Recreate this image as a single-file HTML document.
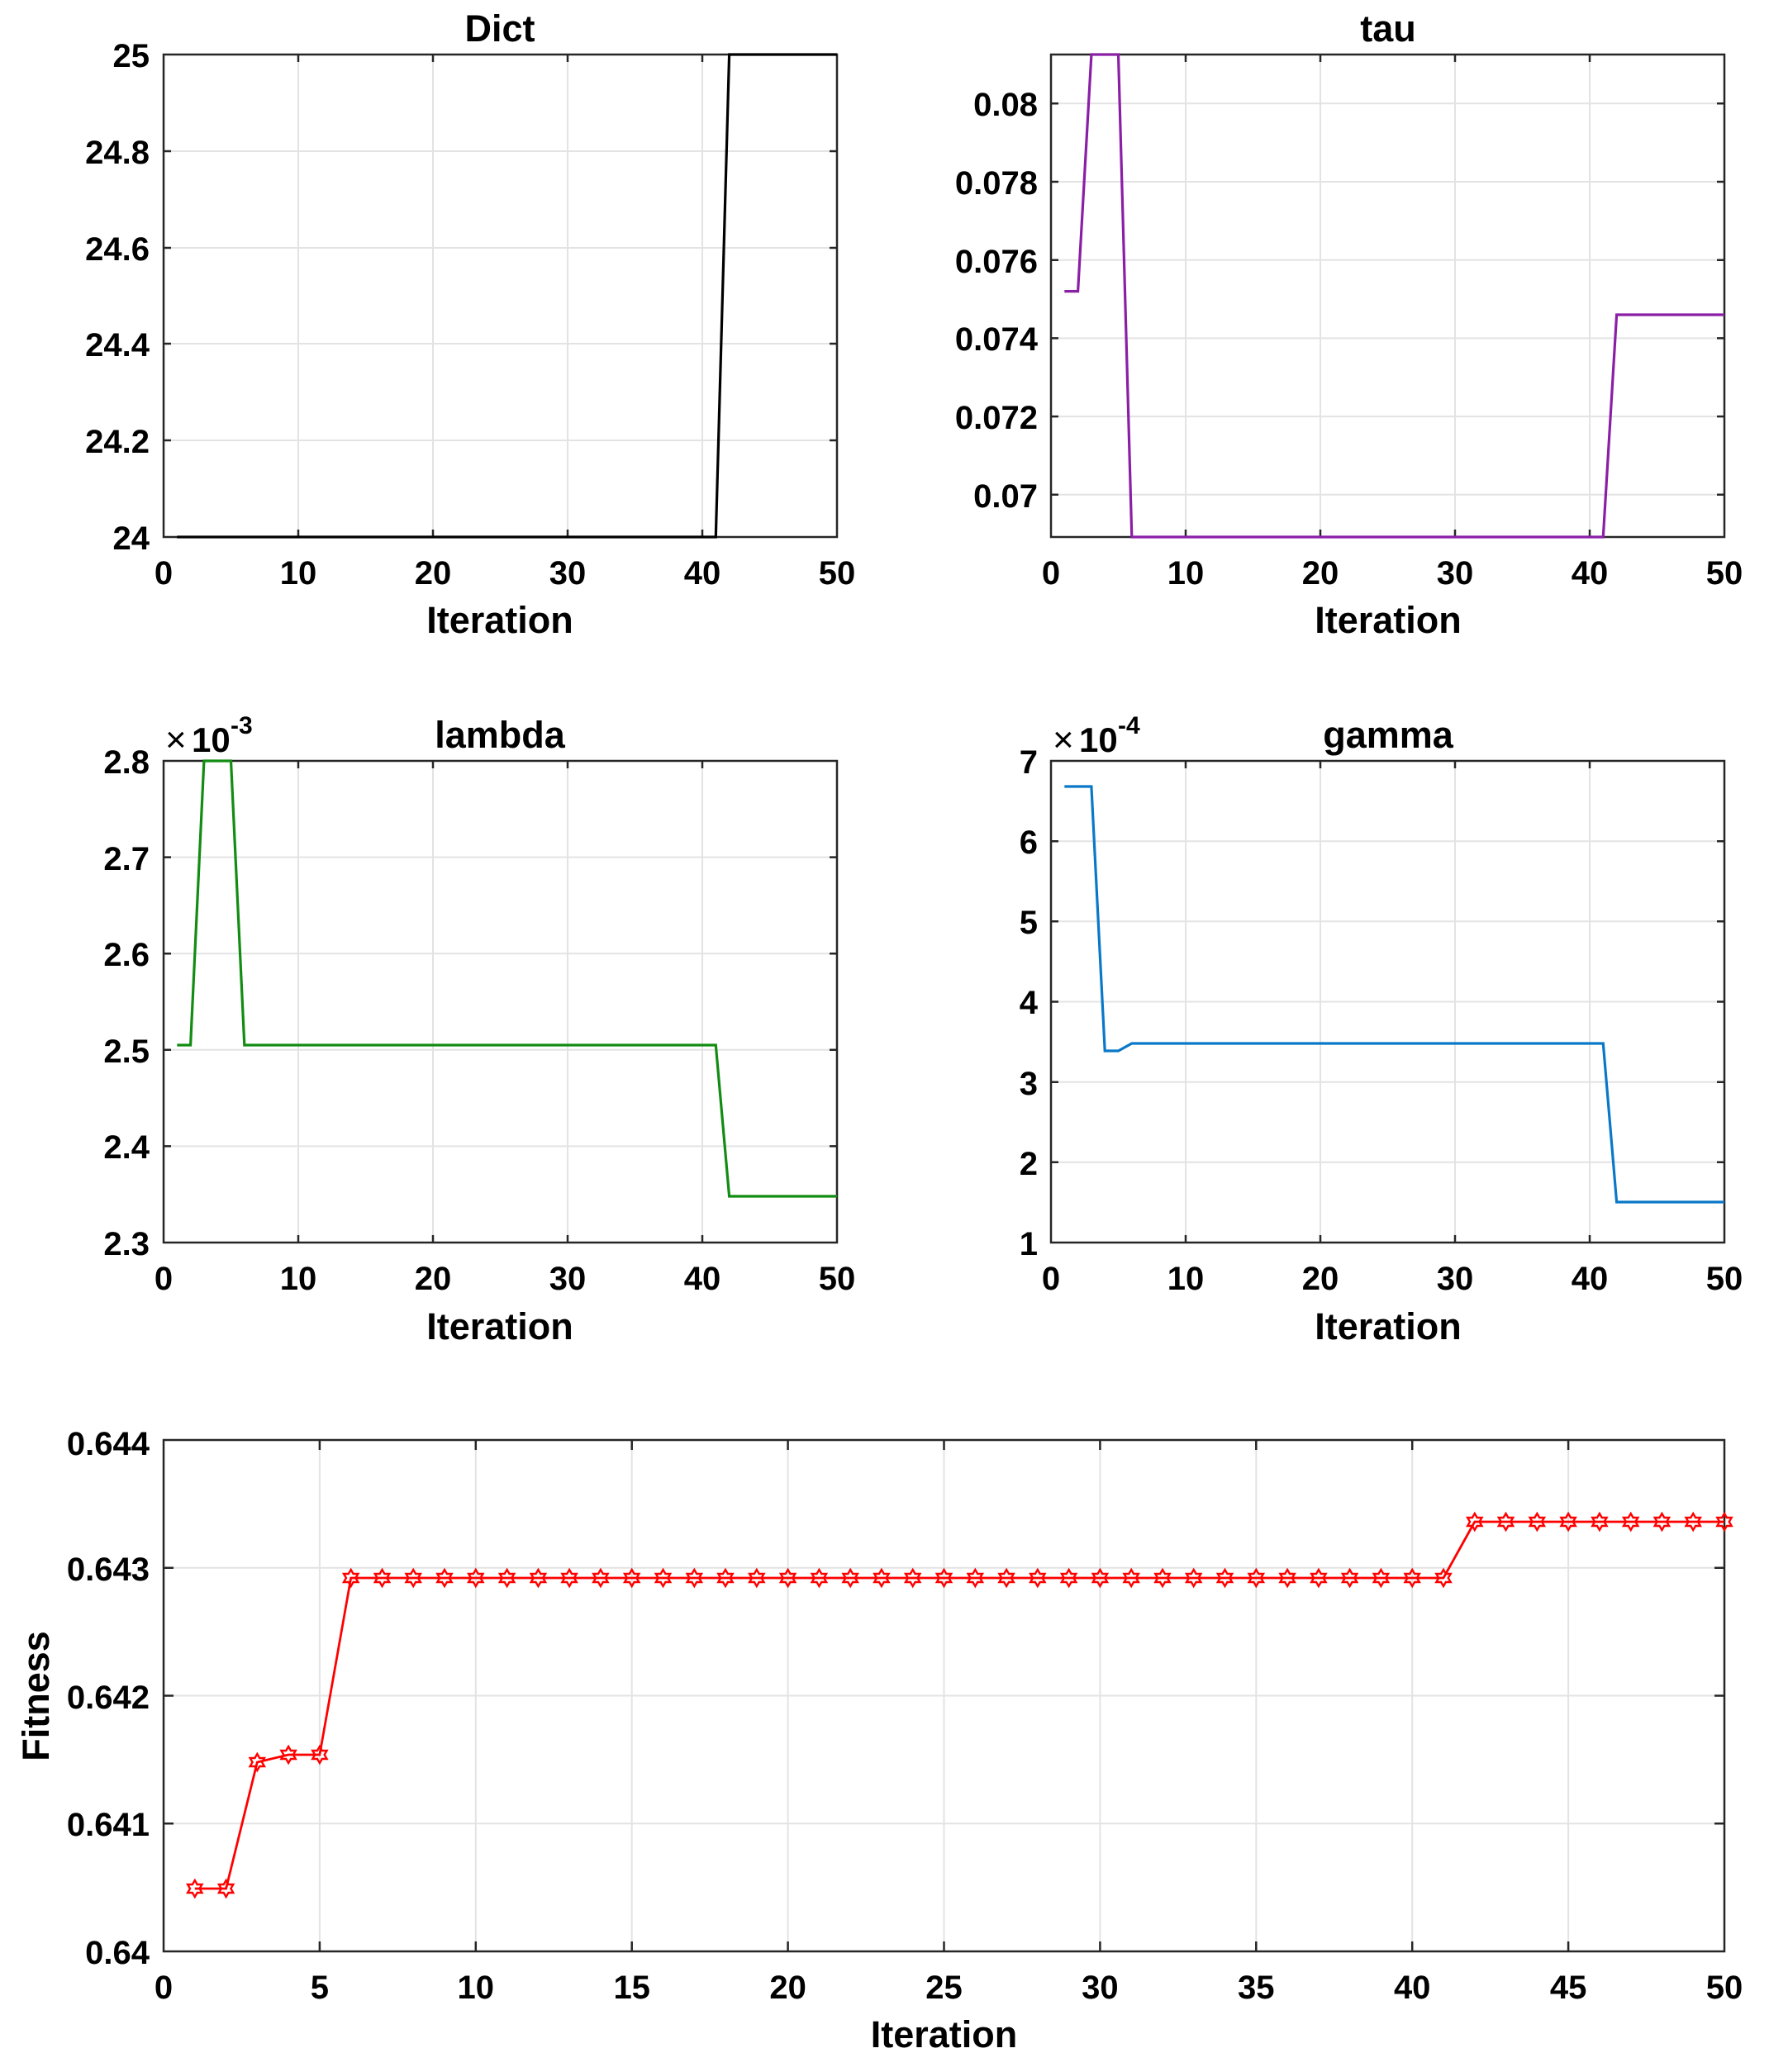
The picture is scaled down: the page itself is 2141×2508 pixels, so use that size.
<!DOCTYPE html>
<html><head><meta charset="utf-8"><style>
html,body{margin:0;padding:0;background:#fff;}
svg{display:block;}
text{font-family:"Liberation Sans",Arial,sans-serif;font-weight:bold;fill:#000;}
.t{font-size:40px;}
.ti{font-size:45px;}
.lab{font-size:45px;}
.g{stroke:#e3e3e3;stroke-width:2;fill:none;}
.ax{stroke:#262626;stroke-width:2.5;fill:none;}
.tk{stroke:#262626;stroke-width:2.5;fill:none;}
</style></head><body>
<svg width="2141" height="2508" viewBox="0 0 2141 2508" xmlns="http://www.w3.org/2000/svg">
<defs>
<polygon id="hx" points="0,-10 2.89,-5 8.66,-5 5.77,0 8.66,5 2.89,5 0,10 -2.89,5 -8.66,5 -5.77,0 -8.66,-5 -2.89,-5" fill="none" stroke="#ff0000" stroke-width="2.4"/>
</defs>

<!-- ===== Panel A: Dict ===== -->
<path class="g" d="M361,66V650M524,66V650M687,66V650M850,66V650M198,183H1013M198,300H1013M198,416H1013M198,533H1013"/>
<path class="tk" d="M361,650v-9M524,650v-9M687,650v-9M850,650v-9M361,66v9M524,66v9M687,66v9M850,66v9M198,183h9M198,300h9M198,416h9M198,533h9M1013,183h-9M1013,300h-9M1013,416h-9M1013,533h-9"/>
<rect class="ax" x="198" y="66" width="815" height="584"/>
<polyline points="214.3,650 866.3,650 882.6,66 1013,66" fill="none" stroke="#000" stroke-width="3.2"/>
<text class="ti" x="605" y="50" text-anchor="middle">Dict</text>
<g class="t" text-anchor="end">
<text x="181" y="81">25</text><text x="181" y="198">24.8</text><text x="181" y="315">24.6</text><text x="181" y="431">24.4</text><text x="181" y="548">24.2</text><text x="181" y="665">24</text>
</g>
<g class="t" text-anchor="middle">
<text x="198" y="707">0</text><text x="361" y="707">10</text><text x="524" y="707">20</text><text x="687" y="707">30</text><text x="850" y="707">40</text><text x="1013" y="707">50</text>
</g>
<text class="lab" x="605" y="766" text-anchor="middle">Iteration</text>

<!-- ===== Panel B: tau ===== -->
<path class="g" d="M1435,66V650M1598,66V650M1761,66V650M1924,66V650M1272,125.3H2087M1272,220H2087M1272,314.7H2087M1272,409.4H2087M1272,504.1H2087M1272,598.8H2087"/>
<path class="tk" d="M1435,650v-9M1598,650v-9M1761,650v-9M1924,650v-9M1435,66v9M1598,66v9M1761,66v9M1924,66v9M1272,125.3h9M1272,220h9M1272,314.7h9M1272,409.4h9M1272,504.1h9M1272,598.8h9M2087,125.3h-9M2087,220h-9M2087,314.7h-9M2087,409.4h-9M2087,504.1h-9M2087,598.8h-9"/>
<rect class="ax" x="1272" y="66" width="815" height="584"/>
<polyline points="1288.3,352.6 1304.6,352.6 1320.9,66 1353.5,66 1369.8,650 1940.3,650 1956.6,381 2087,381" fill="none" stroke="#8a1fa6" stroke-width="3.2"/>
<text class="ti" x="1680" y="50" text-anchor="middle">tau</text>
<g class="t" text-anchor="end">
<text x="1256" y="140">0.08</text><text x="1256" y="235">0.078</text><text x="1256" y="330">0.076</text><text x="1256" y="424">0.074</text><text x="1256" y="519">0.072</text><text x="1256" y="614">0.07</text>
</g>
<g class="t" text-anchor="middle">
<text x="1272" y="707">0</text><text x="1435" y="707">10</text><text x="1598" y="707">20</text><text x="1761" y="707">30</text><text x="1924" y="707">40</text><text x="2087" y="707">50</text>
</g>
<text class="lab" x="1680" y="766" text-anchor="middle">Iteration</text>

<!-- ===== Panel C: lambda ===== -->
<path class="g" d="M361,921V1504M524,921V1504M687,921V1504M850,921V1504M198,1037.6H1013M198,1154.2H1013M198,1270.8H1013M198,1387.4H1013"/>
<path class="tk" d="M361,1504v-9M524,1504v-9M687,1504v-9M850,1504v-9M361,921v9M524,921v9M687,921v9M850,921v9M198,1037.6h9M198,1154.2h9M198,1270.8h9M198,1387.4h9M1013,1037.6h-9M1013,1154.2h-9M1013,1270.8h-9M1013,1387.4h-9"/>
<rect class="ax" x="198" y="921" width="815" height="583"/>
<polyline points="214.3,1265 230.6,1265 246.9,921 279.5,921 295.8,1265 866.3,1265 882.6,1448 1013,1448" fill="none" stroke="#128c12" stroke-width="3.2"/>
<text class="ti" x="605" y="905" text-anchor="middle">lambda</text>
<text x="200" y="910" style="font-size:44px;font-weight:normal">×</text>
<text x="232" y="910" style="font-size:42px">10</text>
<text x="279" y="888" style="font-size:30px">-3</text>
<g class="t" text-anchor="end">
<text x="181" y="936">2.8</text><text x="181" y="1053">2.7</text><text x="181" y="1169">2.6</text><text x="181" y="1286">2.5</text><text x="181" y="1402">2.4</text><text x="181" y="1519">2.3</text>
</g>
<g class="t" text-anchor="middle">
<text x="198" y="1561">0</text><text x="361" y="1561">10</text><text x="524" y="1561">20</text><text x="687" y="1561">30</text><text x="850" y="1561">40</text><text x="1013" y="1561">50</text>
</g>
<text class="lab" x="605" y="1621" text-anchor="middle">Iteration</text>

<!-- ===== Panel D: gamma ===== -->
<path class="g" d="M1435,921V1504M1598,921V1504M1761,921V1504M1924,921V1504M1272,1018.2H2087M1272,1115.3H2087M1272,1212.5H2087M1272,1309.7H2087M1272,1406.8H2087"/>
<path class="tk" d="M1435,1504v-9M1598,1504v-9M1761,1504v-9M1924,1504v-9M1435,921v9M1598,921v9M1761,921v9M1924,921v9M1272,1018.2h9M1272,1115.3h9M1272,1212.5h9M1272,1309.7h9M1272,1406.8h9M2087,1018.2h-9M2087,1115.3h-9M2087,1212.5h-9M2087,1309.7h-9M2087,1406.8h-9"/>
<rect class="ax" x="1272" y="921" width="815" height="583"/>
<polyline points="1288.3,952 1320.9,952 1337.2,1272 1353.5,1272 1369.8,1263 1940.3,1263 1956.6,1455 2087,1455" fill="none" stroke="#0a78c8" stroke-width="3.2"/>
<text class="ti" x="1680" y="905" text-anchor="middle">gamma</text>
<text x="1274" y="910" style="font-size:44px;font-weight:normal">×</text>
<text x="1306" y="910" style="font-size:42px">10</text>
<text x="1353" y="888" style="font-size:30px">-4</text>
<g class="t" text-anchor="end">
<text x="1256" y="936">7</text><text x="1256" y="1033">6</text><text x="1256" y="1130">5</text><text x="1256" y="1227">4</text><text x="1256" y="1325">3</text><text x="1256" y="1422">2</text><text x="1256" y="1519">1</text>
</g>
<g class="t" text-anchor="middle">
<text x="1272" y="1561">0</text><text x="1435" y="1561">10</text><text x="1598" y="1561">20</text><text x="1761" y="1561">30</text><text x="1924" y="1561">40</text><text x="2087" y="1561">50</text>
</g>
<text class="lab" x="1680" y="1621" text-anchor="middle">Iteration</text>

<!-- ===== Panel E: Fitness ===== -->
<path class="g" d="M386.9,1743V2362M575.8,1743V2362M764.7,1743V2362M953.6,1743V2362M1142.5,1743V2362M1331.4,1743V2362M1520.3,1743V2362M1709.2,1743V2362M1898.1,1743V2362M198,1897.75H2087M198,2052.5H2087M198,2207.25H2087"/>
<path class="tk" d="M386.9,2362v-12M575.8,2362v-12M764.7,2362v-12M953.6,2362v-12M1142.5,2362v-12M1331.4,2362v-12M1520.3,2362v-12M1709.2,2362v-12M1898.1,2362v-12M386.9,1743v12M575.8,1743v12M764.7,1743v12M953.6,1743v12M1142.5,1743v12M1331.4,1743v12M1520.3,1743v12M1709.2,1743v12M1898.1,1743v12M198,1897.75h12M198,2052.5h12M198,2207.25h12M2087,1897.75h-12M2087,2052.5h-12M2087,2207.25h-12"/>
<rect class="ax" x="198" y="1743" width="1889" height="619"/>
<polyline points="235.8,2286 273.6,2286 311.3,2133 349.1,2124 386.9,2124 424.7,1910 1747,1910 1784.8,1842 2087,1842" fill="none" stroke="#ff0000" stroke-width="2.8"/>
<g>
<use href="#hx" x="235.8" y="2286"/><use href="#hx" x="273.6" y="2286"/><use href="#hx" x="311.3" y="2133"/><use href="#hx" x="349.1" y="2124"/><use href="#hx" x="386.9" y="2124"/>
<use href="#hx" x="424.7" y="1910"/><use href="#hx" x="462.5" y="1910"/><use href="#hx" x="500.2" y="1910"/><use href="#hx" x="538.0" y="1910"/><use href="#hx" x="575.8" y="1910"/>
<use href="#hx" x="613.6" y="1910"/><use href="#hx" x="651.4" y="1910"/><use href="#hx" x="689.1" y="1910"/><use href="#hx" x="726.9" y="1910"/><use href="#hx" x="764.7" y="1910"/>
<use href="#hx" x="802.5" y="1910"/><use href="#hx" x="840.3" y="1910"/><use href="#hx" x="878.0" y="1910"/><use href="#hx" x="915.8" y="1910"/><use href="#hx" x="953.6" y="1910"/>
<use href="#hx" x="991.4" y="1910"/><use href="#hx" x="1029.2" y="1910"/><use href="#hx" x="1066.9" y="1910"/><use href="#hx" x="1104.7" y="1910"/><use href="#hx" x="1142.5" y="1910"/>
<use href="#hx" x="1180.3" y="1910"/><use href="#hx" x="1218.1" y="1910"/><use href="#hx" x="1255.8" y="1910"/><use href="#hx" x="1293.6" y="1910"/><use href="#hx" x="1331.4" y="1910"/>
<use href="#hx" x="1369.2" y="1910"/><use href="#hx" x="1407.0" y="1910"/><use href="#hx" x="1444.7" y="1910"/><use href="#hx" x="1482.5" y="1910"/><use href="#hx" x="1520.3" y="1910"/>
<use href="#hx" x="1558.1" y="1910"/><use href="#hx" x="1595.9" y="1910"/><use href="#hx" x="1633.6" y="1910"/><use href="#hx" x="1671.4" y="1910"/><use href="#hx" x="1709.2" y="1910"/>
<use href="#hx" x="1747.0" y="1910"/><use href="#hx" x="1784.8" y="1842"/><use href="#hx" x="1822.5" y="1842"/><use href="#hx" x="1860.3" y="1842"/><use href="#hx" x="1898.1" y="1842"/>
<use href="#hx" x="1935.9" y="1842"/><use href="#hx" x="1973.7" y="1842"/><use href="#hx" x="2011.4" y="1842"/><use href="#hx" x="2049.2" y="1842"/><use href="#hx" x="2087" y="1842"/>
</g>
<g class="t" text-anchor="end">
<text x="181" y="1761">0.644</text><text x="181" y="1913">0.643</text><text x="181" y="2068">0.642</text><text x="181" y="2222">0.641</text><text x="181" y="2377">0.64</text>
</g>
<g class="t" text-anchor="middle">
<text x="198" y="2419">0</text><text x="386.9" y="2419">5</text><text x="575.8" y="2419">10</text><text x="764.7" y="2419">15</text><text x="953.6" y="2419">20</text><text x="1142.5" y="2419">25</text><text x="1331.4" y="2419">30</text><text x="1520.3" y="2419">35</text><text x="1709.2" y="2419">40</text><text x="1898.1" y="2419">45</text><text x="2087" y="2419">50</text>
</g>
<text class="lab" x="1142.5" y="2478" text-anchor="middle">Iteration</text>
<text class="lab" transform="translate(59,2053) rotate(-90)" text-anchor="middle">Fitness</text>
</svg>
</body></html>
